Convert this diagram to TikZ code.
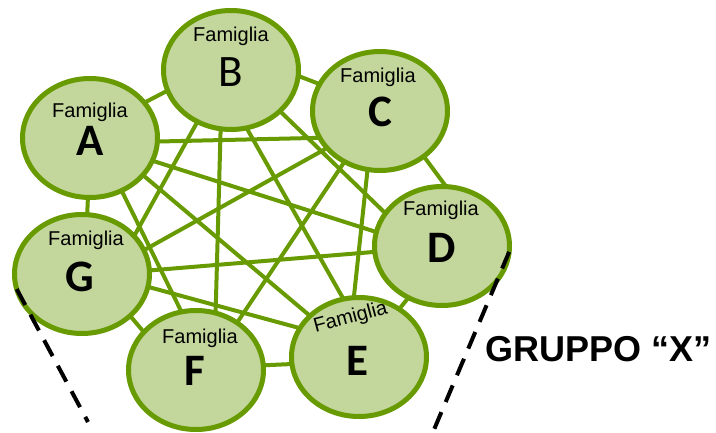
\documentclass[tikz,border=0pt]{standalone}
\usepackage{fontspec}
\newfontfamily\famfont{Liberation Sans}
\newfontfamily\letfont{Carlito}
\usetikzlibrary{shapes.geometric,backgrounds}
\definecolor{famfill}{RGB}{195,214,155}
\definecolor{famline}{RGB}{104,154,2}
\begin{document}
\begin{tikzpicture}[x=1pt,y=-1pt,
  fam/.style={ellipse, draw=famline, fill=famfill, line width=5pt, minimum width=135pt, minimum height=119pt, inner sep=0pt, outer sep=0pt},
  link/.style={draw=famline, line width=4pt},
  famtxt/.style={font=\famfont\fontsize{20}{20}\selectfont, anchor=base, inner sep=0pt, text height=14pt, text depth=4pt},
  lettxt/.style={font=\letfont\bfseries\fontsize{45}{45}\selectfont, anchor=base, inner sep=0pt, text height=29pt, text depth=0pt},
  grpline/.style={draw=black, line width=4pt, dash pattern=on 18pt off 11pt},
  grptxt/.style={font=\famfont\bfseries\fontsize{36}{36}\selectfont, anchor=base west, inner sep=0pt}
]
\useasboundingbox (0,0) rectangle (716,433);

\node[fam] (A) at (90,138) {};
\node[fam] (B) at (231,70) {};
\node[fam] (C) at (380,111) {};
\node[fam] (D) at (442,246) {};
\node[fam] (E) at (359,357) {};
\node[fam] (F) at (196,370) {};
\node[fam] (G) at (82,274) {};

\begin{scope}[on background layer]
\draw[link] (A.33.7) -- (B.198.4);
\draw[link] (B.-5.8) -- (C.156.8);
\draw[link] (C.-46.2) -- (D.86.3);
\draw[link] (D.237) -- (E.50.6);
\draw[link] (E.186.6) -- (F.4.1);
\draw[link] (F.144.8) -- (G.-41.5);
\draw[link] (G.85.3) -- (A.268.2);
\draw[link] (A.-3.4) -- (C.204);
\draw[link] (A.-20.5) -- (D.168.9);
\draw[link] (A.-35.1) -- (E.140.4);
\draw[link] (A.-59.9) -- (F.104.9);
\draw[link] (B.-40.9) -- (D.150);
\draw[link] (B.-75.5) -- (E.105.8);
\draw[link] (B.-100) -- (F.71.6);
\draw[link] (B.237.7) -- (G.36.3);
\draw[link] (C.-102) -- (E.95.6);
\draw[link] (C.-125.1) -- (F.49.8);
\draw[link] (C.215.3) -- (G.21.5);
\draw[link] (D.185) -- (G.3.4);
\draw[link] (E.154.6) -- (G.-11.6);
\end{scope}

\node[famtxt] (Af) at (90,118) {Famiglia};
\node[lettxt] (Al) at (90,156) {A};
\node[famtxt] (Bf) at (231,42) {Famiglia};
\node[lettxt, font=\letfont\fontsize{45}{45}\selectfont] (Bl) at (231,87) {B};
\node[famtxt] (Cf) at (378,83) {Famiglia};
\node[lettxt] (Cl) at (380,127) {C};
\node[famtxt] (Df) at (441,216) {Famiglia};
\node[lettxt] (Dl) at (442,263) {D};
\node[famtxt, rotate=15] (Ef) at (352,323) {Famiglia};
\node[lettxt] (El) at (357,375) {E};
\node[famtxt] (Ff) at (200,343) {Famiglia};
\node[lettxt] (Fl) at (195,385) {F};
\node[famtxt] (Gf) at (86,246) {Famiglia};
\node[lettxt] (Gl) at (80,291) {G};

\coordinate (Lend) at (88,422);
\coordinate (Rend) at (433,432);
\draw[grpline] (G.193) -- (Lend);
\draw[grpline] (D.-5) -- (Rend);

\node[grptxt] (grp) at (485,361) {GRUPPO “X”};
\end{tikzpicture}
\end{document}
